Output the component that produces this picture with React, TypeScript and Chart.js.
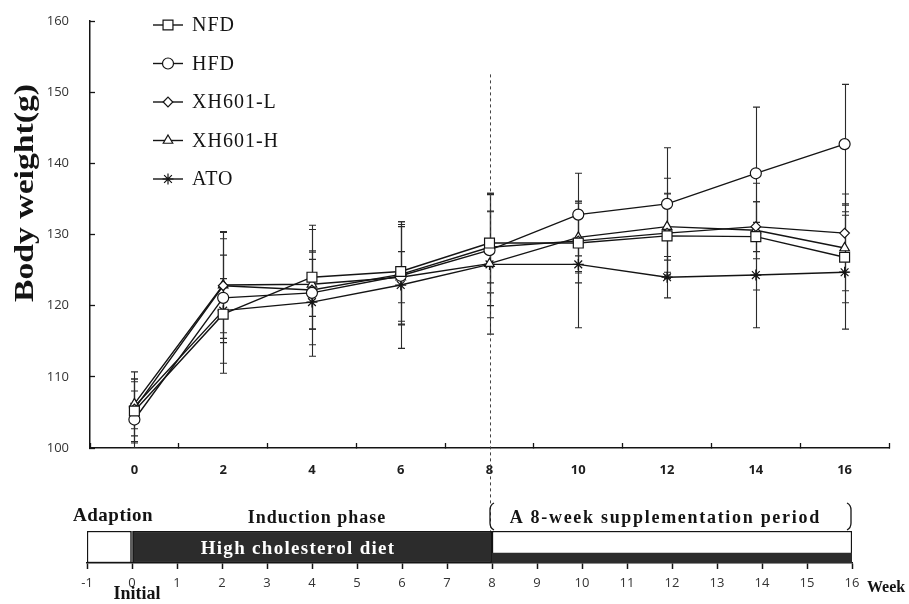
import React, { useEffect, useRef } from 'react';
import { Chart, registerables } from 'chart.js';
import { drawPoint } from 'chart.js/helpers';

Chart.register(...registerables);

// ---------- data ----------
const WEEKS = [0, 2, 4, 6, 8, 10, 12, 14, 16];
const SERIES_NAMES = ['NFD', 'HFD', 'XH601-L', 'XH601-H', 'ATO'];

const NFD = [105.2, 118.8, 124.0, 124.8, 128.8, 128.8, 129.8, 129.7, 126.8];
const HFD = [104.0, 121.1, 121.8, 124.2, 127.8, 132.8, 134.3, 138.6, 142.7];
const XH601_L = [105.5, 122.8, 122.2, 124.4, 128.2, 129.1, 130.2, 131.1, 130.2];
const XH601_H = [106.2, 122.9, 123.0, 124.0, 125.9, 129.6, 131.1, 130.6, 128.1];
const ATO = [105.8, 119.3, 120.5, 122.9, 125.8, 125.8, 124.0, 124.3, 124.7];

const NFD_SD = [4.5, 8.3, 7.3, 7.0, 7.0, 5.6, 6.0, 7.5, 6.4];
const HFD_SD = [4.0, 9.2, 8.9, 6.9, 7.8, 5.8, 7.9, 9.3, 8.4];
const XH601_L_SD = [3.8, 6.6, 5.5, 7.0, 5.0, 4.3, 5.5, 3.5, 5.5];
const XH601_H_SD = [3.5, 7.5, 4.5, 3.6, 9.9, 5.0, 6.8, 4.0, 6.0];
const ATO_SD = [4.9, 4.5, 6.0, 8.9, 7.5, 8.9, 2.9, 7.4, 8.0];

const SERIES_VALUES = [NFD, HFD, XH601_L, XH601_H, ATO];
const SERIES_SD = [NFD_SD, HFD_SD, XH601_L_SD, XH601_H_SD, ATO_SD];

const Y_MIN = 100;
const Y_MAX = 160;
const Y_STEP = 10;
const X_MIN = -1;
const X_MAX = 17;
const SUPPLEMENT_START_WEEK = 8;

// timeline
const TIMELINE_MIN = -1;
const TIMELINE_MAX = 16;
const PHASE_NAMES = ['Adaption', 'High cholesterol diet', 'A 8-week supplementation period'];
const PHASE_START = [-1, 0, 8];
const PHASE_END = [0, 8, 16];
const HCD_CONTINUED = [8, 16];

// ---------- styles ----------
const MARKERS = [
  { style: 'rect', r: 7 },
  { style: 'circle', r: 5.5 },
  { style: 'rectRot', r: 4.8 },
  { style: 'triangle', r: 5.5 },
  { style: 'star', r: 5.5 },
];
const INK = '#141414';
const SERIF = '"Liberation Serif", "Times New Roman", serif';
const SANS = '"Open Sans", "Liberation Sans", sans-serif';

const errorBarPlugin = {
  id: 'errorBars',
  beforeDatasetsDraw(chart: any) {
    const { ctx, chartArea, scales } = chart;
    const x = scales.x;
    const y = scales.y;
    ctx.save();
    ctx.beginPath();
    ctx.rect(chartArea.left, chartArea.top, chartArea.right - chartArea.left, chartArea.bottom - chartArea.top);
    ctx.clip();
    ctx.strokeStyle = '#2a2a2a';
    ctx.lineWidth = 1.1;
    SERIES_VALUES.forEach((vals, i) => {
      const sd = SERIES_SD[i];
      vals.forEach((v, j) => {
        const px = Math.round(x.getPixelForValue(WEEKS[j])) + 0.5;
        const pt = y.getPixelForValue(v + sd[j]);
        const pb = y.getPixelForValue(v - sd[j]);
        ctx.beginPath();
        ctx.moveTo(px, pt);
        ctx.lineTo(px, pb);
        ctx.moveTo(px - 3.5, pt);
        ctx.lineTo(px + 3.5, pt);
        ctx.moveTo(px - 3.5, pb);
        ctx.lineTo(px + 3.5, pb);
        ctx.stroke();
      });
    });
    ctx.restore();
  },
};

const mainDecor = {
  id: 'mainDecor',
  beforeDatasetsDraw(chart: any) {
    const { ctx, scales } = chart;
    const x = scales.x;
    const y = scales.y;
    const px = Math.round(x.getPixelForValue(SUPPLEMENT_START_WEEK)) + 0.5;
    ctx.save();
    ctx.strokeStyle = '#444';
    ctx.lineWidth = 1;
    ctx.setLineDash([3, 3]);
    ctx.beginPath();
    ctx.moveTo(px, y.getPixelForValue(152.5));
    ctx.lineTo(px, 531);
    ctx.stroke();
    ctx.restore();
  },
  afterDraw(chart: any) {
    const { ctx, chartArea } = chart;
    ctx.save();
    // y title
    ctx.font = `bold 27px ${SERIF}`;
    ctx.fillStyle = INK;
    ctx.textAlign = 'center';
    ctx.textBaseline = 'middle';
    const title = 'Body weight(g)';
    const w = ctx.measureText(title).width;
    ctx.translate(25, 193);
    ctx.rotate(-Math.PI / 2);
    ctx.scale(218 / w, 1);
    ctx.fillText(title, 0, 1);
    ctx.restore();

    // legend
    ctx.save();
    const lx0 = chartArea.left + 63;
    const lx1 = chartArea.left + 93;
    const tx = chartArea.left + 102;
    chart.data.datasets.forEach((ds: any, i: number) => {
      const ly = chartArea.top + 4 + i * 38.5;
      ctx.strokeStyle = INK;
      ctx.lineWidth = 1.4;
      ctx.beginPath();
      ctx.moveTo(lx0, ly);
      ctx.lineTo(lx1, ly);
      ctx.stroke();
      ctx.fillStyle = '#fff';
      ctx.strokeStyle = INK;
      ctx.lineWidth = 1.2;
      drawPoint(ctx, { pointStyle: MARKERS[i].style, radius: MARKERS[i].r, rotation: 0, borderWidth: 1.2 } as any, (lx0 + lx1) / 2, ly);
      ctx.fillStyle = INK;
      ctx.font = `20px ${SERIF}`;
      (ctx as any).letterSpacing = '1px';
      ctx.textAlign = 'left';
      ctx.textBaseline = 'middle';
      ctx.fillText(ds.label, tx, ly + 1);
      (ctx as any).letterSpacing = '0px';
    });
    ctx.restore();
  },
};

const timelineText = {
  id: 'timelineText',
  afterDraw(chart: any) {
    const { ctx, chartArea } = chart;
    const x = chart.scales.x;
    const top = chartArea.top;
    const bottom = chartArea.bottom;
    ctx.save();
    ctx.textAlign = 'center';
    ctx.textBaseline = 'middle';
    ctx.fillStyle = INK;

    ctx.font = `bold 19px ${SERIF}`;
    (ctx as any).letterSpacing = '0.5px';
    ctx.fillText(PHASE_NAMES[0], x.getPixelForValue(-0.42), top - 15);

    ctx.font = `bold 18px ${SERIF}`;
    (ctx as any).letterSpacing = '1px';
    ctx.fillText('Induction phase', x.getPixelForValue(4.11), top - 13);

    (ctx as any).letterSpacing = '1.7px';
    ctx.fillText(PHASE_NAMES[2], x.getPixelForValue((PHASE_START[2] + PHASE_END[2]) / 2 - 0.15), top - 13);

    ctx.fillStyle = '#fff';
    ctx.font = `bold 19px ${SERIF}`;
    (ctx as any).letterSpacing = '1.3px';
    ctx.fillText(PHASE_NAMES[1], x.getPixelForValue(3.69), (top + bottom) / 2 + 2);

    ctx.fillStyle = INK;
    ctx.font = `bold 18px ${SERIF}`;
    (ctx as any).letterSpacing = '0px';
    ctx.fillText('Initial', x.getPixelForValue(0.11), bottom + 31);

    ctx.font = `bold 16px ${SERIF}`;
    ctx.textAlign = 'left';
    ctx.fillText('Week', x.getPixelForValue(TIMELINE_MAX) + 15, bottom + 25);

    // bracket over supplementation period
    const bl = x.getPixelForValue(PHASE_START[2]) - 2;
    const br = x.getPixelForValue(PHASE_END[2]) - 1;
    const bt = top - 28;
    const bb = top - 1;
    ctx.strokeStyle = INK;
    ctx.lineWidth = 1.3;
    ctx.beginPath();
    ctx.moveTo(bl + 4, bt);
    ctx.quadraticCurveTo(bl, bt + 2, bl, bt + 7);
    ctx.lineTo(bl, bb - 7);
    ctx.quadraticCurveTo(bl, bb - 2, bl + 4, bb);
    ctx.moveTo(br - 4, bt);
    ctx.quadraticCurveTo(br, bt + 2, br, bt + 7);
    ctx.lineTo(br, bb - 7);
    ctx.quadraticCurveTo(br, bb - 2, br - 4, bb);
    ctx.stroke();
    ctx.restore();
  },
};

export default function App() {
  const mainRef = useRef<HTMLCanvasElement | null>(null);
  const tlRef = useRef<HTMLCanvasElement | null>(null);

  useEffect(() => {
    if (!mainRef.current || !tlRef.current) return;

    const main = new Chart(mainRef.current, {
      type: 'line',
      data: {
        datasets: SERIES_NAMES.map((name, i) => ({
          label: name,
          data: WEEKS.map((w, j) => ({ x: w, y: SERIES_VALUES[i][j] })),
          borderColor: INK,
          borderWidth: 1.4,
          backgroundColor: '#fff',
          pointStyle: MARKERS[i].style as any,
          pointRadius: MARKERS[i].r,
          pointBorderWidth: 1.2,
          pointBorderColor: INK,
          pointBackgroundColor: '#fff',
          tension: 0,
          fill: false,
          clip: false as any,
        })),
      },
      options: {
        responsive: false,
        animation: false,
        events: [],
        layout: { padding: { top: 21, right: 20, bottom: 126, left: 0 } },
        plugins: { legend: { display: false }, tooltip: { enabled: false } },
        scales: {
          x: {
            type: 'linear',
            min: X_MIN,
            max: X_MAX,
            afterFit: (s: any) => { s.height = 30; s.paddingLeft = 0; s.paddingRight = 0; },
            ticks: {
              stepSize: 1,
              autoSkip: false,
              maxRotation: 0,
              padding: 19,
              color: '#1e1e1e',
              font: { family: SANS, size: 13, weight: 'bold' },
              callback: (v: any) => (Number(v) % 2 === 0 ? String(v) : ''),
            },
            grid: {
              drawOnChartArea: false,
              tickLength: -5,
              tickWidth: 1.3,
              tickColor: (c: any) => (c.tick && Math.abs(c.tick.value) % 2 === 1 ? INK : 'rgba(0,0,0,0)'),
            },
            border: { color: INK, width: 1.5 },
          },
          y: {
            type: 'linear',
            min: Y_MIN,
            max: Y_MAX,
            afterFit: (s: any) => { s.width = 90; s.paddingTop = 0; s.paddingBottom = 0; },
            ticks: {
              stepSize: Y_STEP,
              padding: 26,
              color: '#333',
              font: { family: SANS, size: 13 },
            },
            grid: { drawOnChartArea: false, tickLength: -5, tickWidth: 1.3, tickColor: INK },
            border: { color: INK, width: 1.5 },
          },
        },
      } as any,
      plugins: [errorBarPlugin, mainDecor],
    });

    const timeline = new Chart(tlRef.current, {
      type: 'bar',
      data: {
        datasets: [
          {
            label: 'High cholesterol diet (continued)',
            data: [{ x: HCD_CONTINUED, y: 0 }],
            backgroundColor: '#2c2c2c',
            borderWidth: 0,
            barThickness: 20,
            grouped: false,
            clip: 0,
            order: 0,
          },
          ...PHASE_NAMES.map((name, i) => ({
            label: name,
            data: [{ x: [PHASE_START[i], PHASE_END[i]], y: 0.5 }],
            backgroundColor: i === 1 ? '#2c2c2c' : '#fff',
            borderColor: INK,
            borderWidth: 1.5,
            borderSkipped: false,
            barThickness: 32,
            grouped: false,
            order: 1,
          })),
        ] as any,
      },
      options: {
        indexAxis: 'y',
        responsive: false,
        animation: false,
        events: [],
        layout: { padding: { left: 87, right: 57, top: 51, bottom: 0 } },
        plugins: { legend: { display: false }, tooltip: { enabled: false } },
        scales: {
          x: {
            type: 'linear',
            min: TIMELINE_MIN,
            max: TIMELINE_MAX,
            afterFit: (s: any) => { s.height = 41; s.paddingLeft = 0; s.paddingRight = 0; },
            ticks: {
              stepSize: 1,
              autoSkip: false,
              maxRotation: 0,
              padding: 6,
              color: '#333',
              font: { family: SANS, size: 13 },
            },
            grid: { drawOnChartArea: false, tickLength: 6, tickWidth: 1.5, tickColor: INK },
            border: { color: INK, width: 1.5 },
          },
          y: { type: 'linear', min: 0, max: 1, offset: false, display: false },
        },
      } as any,
      plugins: [timelineText],
    });

    return () => {
      main.destroy();
      timeline.destroy();
    };
  }, []);

  return (
    <div style={{ position: 'fixed', left: 0, top: 0, width: 909, height: 604, background: '#fff' }}>
      <canvas ref={mainRef} width={909} height={604} style={{ position: 'absolute', left: 0, top: 0, width: 909, height: 604 }} />
      <canvas ref={tlRef} width={909} height={124} style={{ position: 'absolute', left: 0, top: 480, width: 909, height: 124 }} />
    </div>
  );
}
